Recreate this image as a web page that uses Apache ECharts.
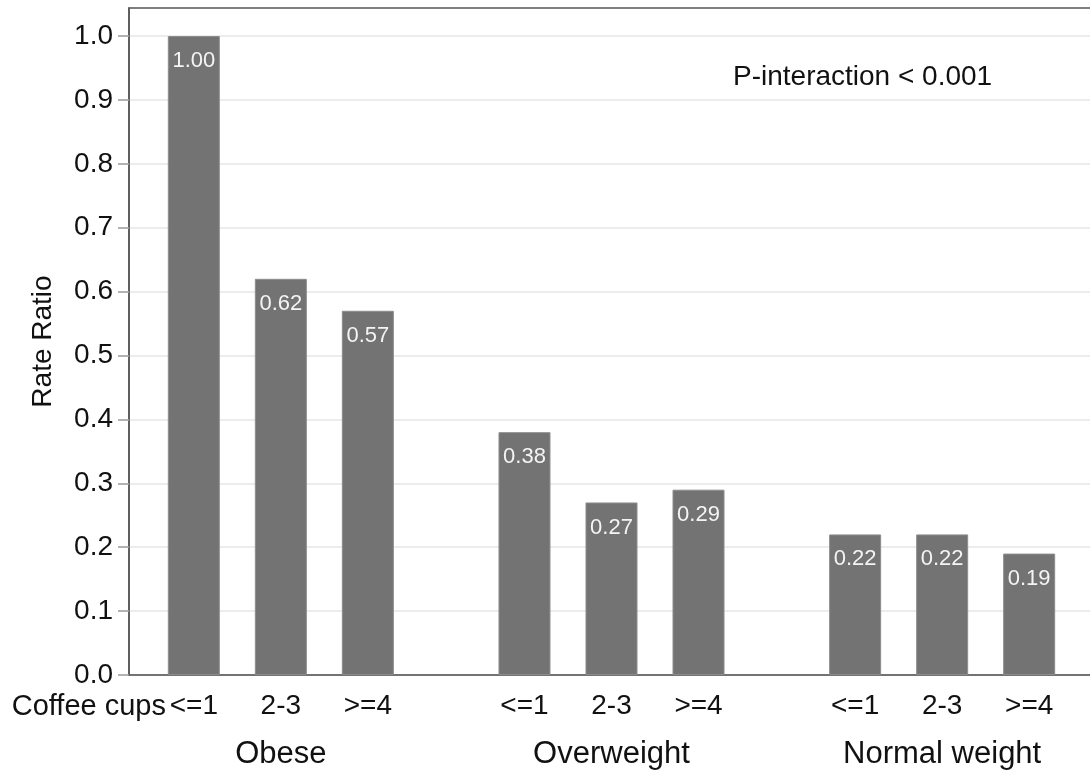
<!DOCTYPE html>
<html>
<head>
<meta charset="utf-8">
<script src="https://cdn.jsdelivr.net/npm/echarts@6/dist/echarts.min.js"></script>
<style>
html, body { margin: 0; padding: 0; background: #fff; overflow: hidden; }
#chart { width: 1094px; height: 770px; }
</style>
</head>
<body>
<div id="chart"></div>
<script>
// ---- data ----
const groups = ['Obese', 'Overweight', 'Normal weight'];
const cups = ['<=1', '2-3', '>=4'];
const obese = [1.00, 0.62, 0.57];
const overweight = [0.38, 0.27, 0.29];
const normalWeight = [0.22, 0.22, 0.19];
const yTicks = [0.0, 0.1, 0.2, 0.3, 0.4, 0.5, 0.6, 0.7, 0.8, 0.9, 1.0];
const annotation = 'P-interaction < 0.001';
const axisTitle = 'Rate Ratio';
const rowTitle = 'Coffee cups';

// ---- layout helpers (category slots with a gap between groups) ----
const GROUP_STEP = 3.8;
const groupValues = [obese, overweight, normalWeight];
const barData = [];
const barPos = [];
const barLabels = [];
groupValues.forEach((vals, g) => {
  vals.forEach((v, i) => {
    const x = g * GROUP_STEP + i;
    barPos.push(x);
    barLabels.push(cups[i]);
    barData.push([x, v]);
  });
});
const groupPos = groups.map((_, g) => g * GROUP_STEP + 1);

const FONT = "'Liberation Sans', Arial, Helvetica, sans-serif";
const TEXT = '#111';

function nearestLabel(val, positions, labels) {
  let best = 0, bd = Infinity;
  positions.forEach((p, k) => { const d = Math.abs(p - val); if (d < bd) { bd = d; best = k; } });
  return bd < 0.01 ? labels[best] : '';
}

const X_MIN = -0.745;
const X_MAX = 2 * GROUP_STEP + 2 + 0.745;

const chart = echarts.init(document.getElementById('chart'), null, { renderer: 'canvas' });
chart.setOption({
  animation: false,
  backgroundColor: '#fff',
  textStyle: { fontFamily: FONT },
  grid: {
    left: 129, right: 0, top: 8, bottom: 95,
    containLabel: false, outerBoundsMode: 'none',
    show: true, borderColor: '#555', borderWidth: 1.5, backgroundColor: '#fff'
  },
  xAxis: [
    {
      type: 'value', min: X_MIN, max: X_MAX,
      axisLine: { show: true, onZero: false, lineStyle: { color: '#555', width: 1.5 } },
      axisTick: { show: false },
      splitLine: { show: false },
      axisLabel: {
        customValues: barPos,
        formatter: (v) => nearestLabel(v, barPos, barLabels),
        color: TEXT, fontSize: 28, margin: 17, fontFamily: FONT
      }
    },
    {
      type: 'value', min: X_MIN, max: X_MAX,
      position: 'bottom', offset: 50,
      axisLine: { show: false, onZero: false }, axisTick: { show: false }, splitLine: { show: false },
      axisLabel: {
        customValues: groupPos,
        formatter: (v) => nearestLabel(v, groupPos, groups),
        color: TEXT, fontSize: 31, margin: 14, fontFamily: FONT
      }
    }
  ],
  yAxis: {
    type: 'value', min: 0, max: 667 / 639,
    name: axisTitle, nameLocation: 'middle', nameRotate: 90, nameGap: 72,
    nameTextStyle: { color: TEXT, fontSize: 28, fontFamily: FONT },
    axisLine: { show: true, onZero: false, lineStyle: { color: '#555', width: 1.5 } },
    axisTick: { show: true, inside: false, length: 11, customValues: yTicks, lineStyle: { color: '#999', width: 1.5 } },
    splitLine: { show: true, lineStyle: { color: '#e6e6e6', width: 1.5 } },
    axisLabel: {
      customValues: yTicks,
      formatter: (v) => v.toFixed(1),
      color: TEXT, fontSize: 28, margin: 16, fontFamily: FONT
    }
  },
  series: [{
    type: 'bar',
    xAxisIndex: 0,
    data: barData,
    barWidth: 52,
    itemStyle: { color: '#737373', borderColor: '#8c8c8c', borderWidth: 1 },
    label: {
      show: true, position: 'insideTop', distance: 14,
      color: '#f4f4f4', fontSize: 22, fontFamily: FONT,
      formatter: (p) => p.value[1].toFixed(2)
    }
  }],
  graphic: [
    {
      type: 'text', left: 733, top: 63,
      style: { text: annotation, fill: TEXT, font: "28px " + FONT }
    },
    {
      type: 'text', right: 1094 - 166, top: 692,
      style: { text: rowTitle, fill: TEXT, font: "29px " + FONT }
    }
  ]
});
</script>
</body>
</html>
